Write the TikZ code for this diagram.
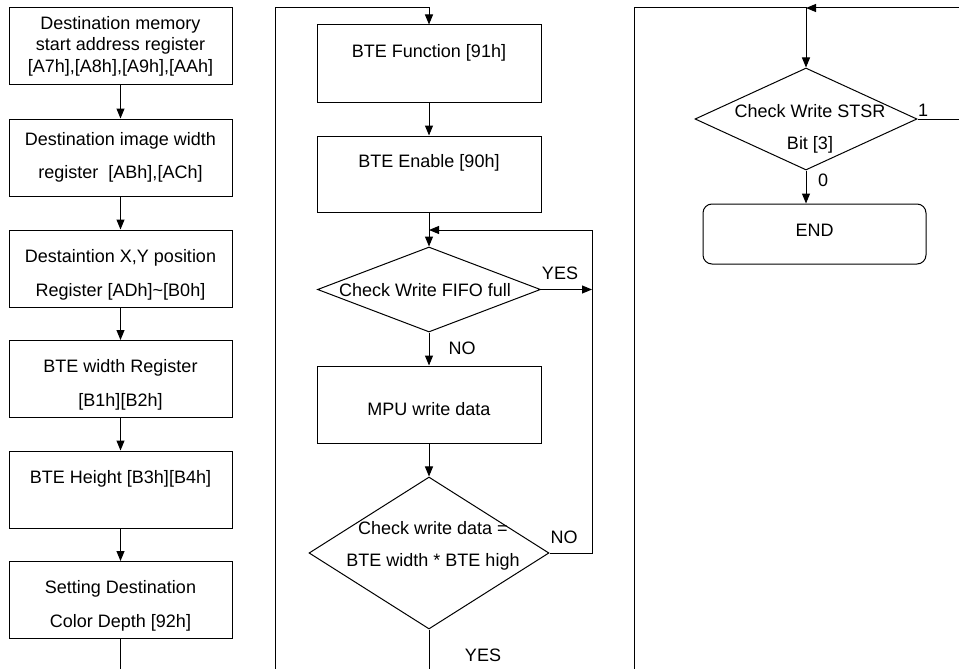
\documentclass[tikz,border=0pt]{standalone}
\usepackage{fontspec}
\setmainfont{Liberation Sans}
\usetikzlibrary{arrows.meta,shapes.geometric}
\begin{document}
\begin{tikzpicture}[x=1pt,y=-1pt,
 every node/.style={font=\fontsize{18}{21.6}\selectfont},
 box/.style={draw,line width=1pt,minimum width=223pt,minimum height=77pt,inner sep=0pt,align=center},
 dia/.style={draw,diamond,line width=1pt,inner sep=0pt},
 txt/.style={align=center,inner sep=0pt},
 lab/.style={inner sep=0pt},
 arr/.style={line width=1pt,-{Triangle[length=10pt,width=8pt]}},
 ln/.style={line width=1pt}]
\useasboundingbox[fill=white] (0,0) rectangle (959,669);

% ---------- left column ----------
\node[box] (b1) at (120.5,46.5) {\strut Destination memory\\\strut start address register\\\strut [A7h],[A8h],[A9h],[AAh]};
\node[box] (b2) at (120.5,157.5) {\strut Destination image width\\[12pt]\strut register\ \ [ABh],[ACh]};
\node[box] (b3) at (120.5,268.5) {\rule{0pt}{28pt}Destaintion X,Y position\\[12pt]\strut Register [ADh]\textasciitilde[B0h]};
\node[box] (b4) at (120.5,379) {\rule{0pt}{28pt}BTE width Register\\[12pt]\strut [B1h][B2h]};
\node[box] (b5) at (120.5,489.5) {\strut BTE Height [B3h][B4h]\\\strut};
\node[box] (b6) at (120.5,600) {\rule{0pt}{28pt}Setting Destination\\[12pt]\strut Color Depth [92h]};
\coordinate (lb) at (120.5,669);
\draw[arr] (b1) -- (b2);
\draw[arr] (b2) -- (b3);
\draw[arr] (b3) -- (b4);
\draw[arr] (b4) -- (b5);
\draw[arr] (b5) -- (b6);
\draw[ln] (b6) -- (lb);

% ---------- middle column ----------
\node[box,minimum width=224pt] (m1) at (429,63.5) {\strut BTE Function [91h]\\\strut};
\node[box,minimum width=224pt,minimum height=76pt] (m2) at (429,174) {\strut BTE Enable [90h]\\\strut};
\node[dia,minimum width=223pt,minimum height=85pt] (d1) at (429,289.5) {};
\node[txt] (d1t) at (425,290) {Check Write FIFO full};
\node[box,minimum width=224pt] (m3) at (429,404.5) {\rule{0pt}{23pt}MPU write data};
\node[dia,minimum width=240pt,minimum height=152pt] (d2) at (429,553) {};
\node[txt] (d2t) at (433,546) {Check write data =\\[10pt]BTE width * BTE high};
\coordinate (ml) at (275,669);
\coordinate (mt) at (275,8);
\coordinate (mtop) at (429,8);
\coordinate (mj) at (429,230);
\coordinate (lr) at (592,230);
\coordinate (mb) at (429,669);
\draw[arr] (ml) -- (mt) -- (mtop) -- (m1);
\draw[arr] (m1) -- (m2);
\draw[arr] (m2) -- (d1);
\draw[arr] (d1.east) -- (d1.east -| lr);
\draw[arr] (d1) -- (m3);
\draw[arr] (m3) -- (d2);
\draw[ln] (d2.east) -- (d2.east -| lr) -- (lr);
\draw[arr] (lr) -- (mj);
\draw[ln] (d2.south) -- (mb);
\node[lab] (yes1) at (560,273) {YES};
\node[lab] (no1) at (462,348) {NO};
\node[lab] (no2) at (564,537) {NO};
\node[lab] (yes2) at (483,655) {YES};

% ---------- right column ----------
\node[dia,minimum width=222pt,minimum height=102pt] (d3) at (806,119) {};
\node[txt] (d3t) at (810,129) {Check Write STSR\\[11pt]Bit [3]};
\node[draw,line width=1pt,rounded corners=9pt,minimum width=223pt,minimum height=60pt,inner sep=0pt] (endb) at (814.5,234) {END\rule[-8pt]{0pt}{8pt}};
\coordinate (rl) at (634,669);
\coordinate (rt) at (634,8);
\coordinate (rj) at (806,8);
\coordinate (re) at (959,8);
\draw[arr] (rl) -- (rt) -- (rj) -- (d3);
\draw[arr] (re) -- (rj);
\draw[ln] (d3.east) -- (d3.east -| re);
\draw[arr] (d3.south) -- (d3.south |- endb.north);
\node[lab] (one) at (923,110) {1};
\node[lab] (zero) at (823,180) {0};
\end{tikzpicture}
\end{document}
